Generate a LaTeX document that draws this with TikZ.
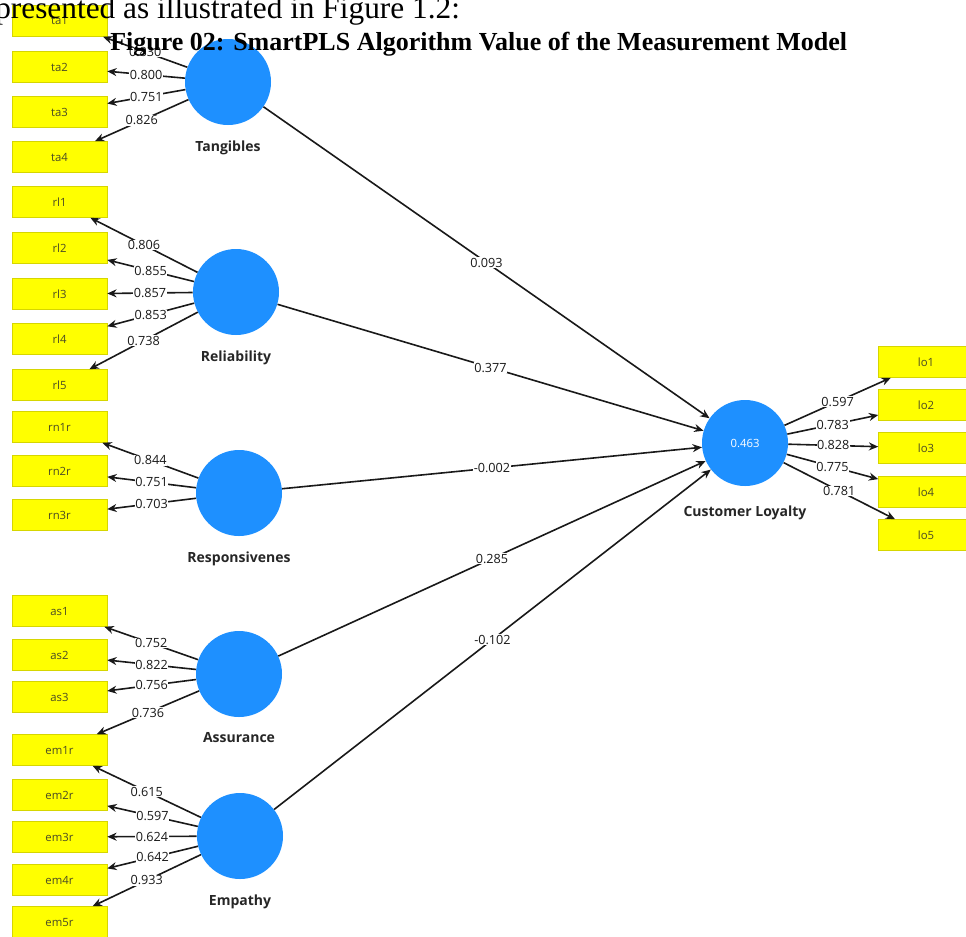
\documentclass[tikz,border=0pt]{standalone}
\usepackage{fontspec}
\setmainfont{Liberation Serif}
\newfontfamily\plsfont{Open Sans}
\usetikzlibrary{arrows.meta}

\definecolor{plsblue}{HTML}{1E90FF}
\definecolor{plsyellow}{HTML}{FFFF00}
\definecolor{plsedge}{HTML}{D6D600}
\definecolor{plstext}{HTML}{4A4A26}

\begin{document}
\begin{tikzpicture}[x=0.75pt, y=-0.75pt,
  every node/.style={font=\plsfont\fontsize{8.5}{10}\selectfont},
  >={Stealth[length=7pt,width=6pt]},
  ind/.style={draw=plsedge, fill=plsyellow, minimum width=71.25pt, minimum height=23.25pt, inner sep=0pt, text=plstext},
  lv/.style={circle, fill=plsblue, minimum size=64.5pt, inner sep=0pt, text=white},
  lvname/.style={font=\plsfont\bfseries\fontsize{10.5}{12}\selectfont, text=black!85, label distance=8pt},
  load/.style={fill=white, inner sep=0.4pt, font=\plsfont\fontsize{9.5}{11}\selectfont, text=black!90},
  link/.style={->, line width=1.2pt, black!90}]
  \useasboundingbox (0,0) rectangle (966,936);
  \fill[white] (0,0) rectangle (966,936);
  \clip (0,0) rectangle (966,936);

  % Tangibles (top left)
  \node[ind] (ta1) at (59.5,21)  {ta1};
  \node[ind] (ta2) at (59.5,67)  {ta2};
  \node[ind] (ta3) at (59.5,112) {ta3};
  \node[ind] (ta4) at (59.5,157) {ta4};
  \node[lv, label={[lvname]below:Tangibles}] (tan) at (228,82) {};
  \draw[link] (tan) -- node[load] {0.830} (ta1);
  \draw[link] (tan) -- node[load] {0.800} (ta2);
  \draw[link] (tan) -- node[load] {0.751} (ta3);
  \draw[link] (tan) -- node[load] {0.826} (ta4);

  % Reliability
  \node[ind] (rl1) at (59.5,202) {rl1};
  \node[ind] (rl2) at (59.5,248) {rl2};
  \node[ind] (rl3) at (59.5,294) {rl3};
  \node[ind] (rl4) at (59.5,339) {rl4};
  \node[ind] (rl5) at (59.5,385) {rl5};
  \node[lv, label={[lvname]below:Reliability}] (rel) at (236,292) {};
  \draw[link] (rel) -- node[load] {0.806} (rl1);
  \draw[link] (rel) -- node[load] {0.855} (rl2);
  \draw[link] (rel) -- node[load] {0.857} (rl3);
  \draw[link] (rel) -- node[load] {0.853} (rl4);
  \draw[link] (rel) -- node[load] {0.738} (rl5);

  % Responsiveness
  \node[ind] (rn1) at (59.5,427) {rn1r};
  \node[ind] (rn2) at (59.5,471) {rn2r};
  \node[ind] (rn3) at (59.5,515) {rn3r};
  \node[lv, label={[lvname]below:Responsivenes}] (res) at (239,493) {};
  \draw[link] (res) -- node[load] {0.844} (rn1);
  \draw[link] (res) -- node[load] {0.751} (rn2);
  \draw[link] (res) -- node[load] {0.703} (rn3);

  % Assurance
  \node[ind] (as1) at (59.5,611) {as1};
  \node[ind] (as2) at (59.5,655) {as2};
  \node[ind] (as3) at (59.5,697) {as3};
  \node[lv, label={[lvname]below:Assurance}] (ass) at (239,674) {};

  % Empathy (bottom left)
  \node[ind] (em1) at (59.5,750) {em1r};
  \node[ind] (em2) at (59.5,795) {em2r};
  \node[ind] (em3) at (59.5,837) {em3r};
  \node[ind] (em4) at (59.5,880) {em4r};
  \node[ind] (em5) at (59.5,922) {em5r};
  \node[lv, label={[lvname]below:Empathy}] (emp) at (240,836) {};
  \draw[link] (ass) -- node[load] {0.752} (as1);
  \draw[link] (ass) -- node[load] {0.822} (as2);
  \draw[link] (ass) -- node[load] {0.756} (as3);
  \draw[link] (ass) -- node[load] {0.736} (em1);
  \draw[link] (emp) -- node[load] {0.615} (em1);
  \draw[link] (emp) -- node[load] {0.597} (em2);
  \draw[link] (emp) -- node[load] {0.624} (em3);
  \draw[link] (emp) -- node[load] {0.642} (em4);
  \draw[link] (emp) -- node[load] {0.933} (em5);

  % Customer Loyalty (right)
  \node[lv, label={[lvname, label distance=11pt]below:Customer Loyalty}] (cl) at (745,443) {0.463};
  \node[ind] (lo1) at (926,362) {lo1};
  \node[ind] (lo2) at (926,405) {lo2};
  \node[ind] (lo3) at (926,448) {lo3};
  \node[ind] (lo4) at (926,492) {lo4};
  \node[ind] (lo5) at (926,535) {lo5};
  \draw[link] (cl) -- node[load] {0.597} (lo1);
  \draw[link] (cl) -- node[load] {0.783} (lo2);
  \draw[link] (cl) -- node[load] {0.828} (lo3);
  \draw[link] (cl) -- node[load] {0.775} (lo4);
  \draw[link] (cl) -- node[load] {0.781} (lo5);

  % Paths
  \draw[link] (tan) -- node[load] {0.093} (cl);
  \draw[link] (rel) -- node[load] {0.377} (cl);
  \draw[link] (res) -- node[load] {-0.002} (cl);
  \draw[link] (ass) -- node[load] {0.285} (cl);
  \draw[link] (emp) -- node[load] {-0.102} (cl);

  % Caption text
  \node[anchor=base west, inner sep=0pt, font=\rmfamily\fontsize{23.5}{26}\selectfont] (intro) at (-5,18) {presented as illustrated in Figure 1.2:};
  \node[anchor=base west, inner sep=0pt, font=\rmfamily\bfseries\fontsize{19.5}{22}\selectfont] (title) at (110,50) {Figure 02: SmartPLS Algorithm Value of the Measurement Model};
\end{tikzpicture}
\end{document}
